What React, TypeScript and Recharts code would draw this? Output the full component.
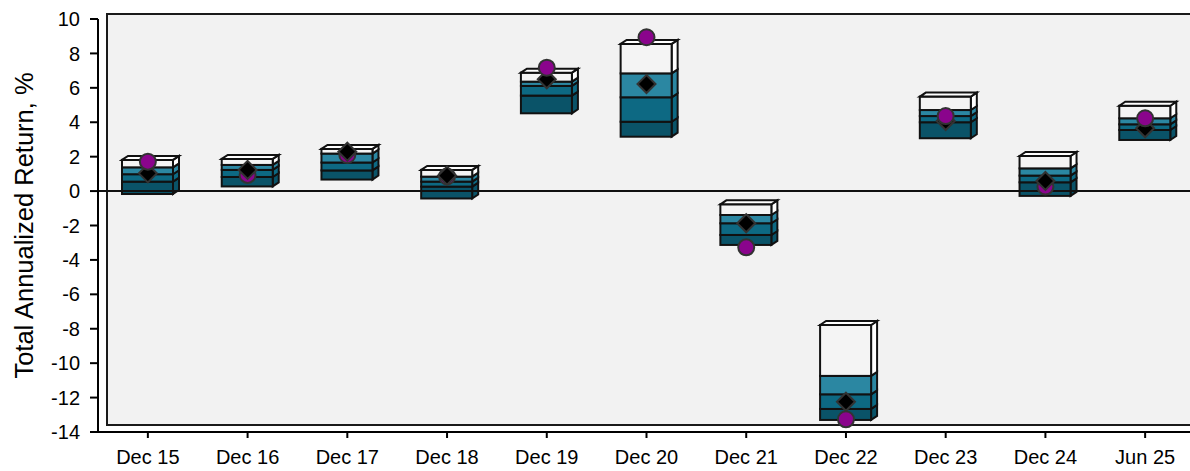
import React from 'react';
import { ComposedChart, Bar, Line, XAxis, YAxis, ReferenceLine } from 'recharts';

const FONT = '"Liberation Sans", Arial, Helvetica, sans-serif';

const categories = ['Dec 15', 'Dec 16', 'Dec 17', 'Dec 18', 'Dec 19', 'Dec 20', 'Dec 21', 'Dec 22', 'Dec 23', 'Dec 24', 'Jun 25'];
const p5 = [-0.17, 0.27, 0.67, -0.43, 4.52, 3.16, -3.13, -13.3, 3.07, -0.28, 2.97];
const p25 = [0.55, 0.82, 1.2, 0.26, 5.55, 4.03, -2.55, -12.66, 4.0, 0.51, 3.55];
const p50 = [0.98, 1.23, 1.66, 0.55, 6.11, 5.45, -1.87, -11.81, 4.36, 0.9, 3.88];
const p75 = [1.38, 1.52, 2.18, 0.84, 6.36, 6.84, -1.39, -10.74, 4.71, 1.32, 4.23];
const p95 = [1.81, 1.87, 2.45, 1.23, 6.88, 8.55, -0.77, -7.78, 5.49, 2.04, 4.96];
const medians = [1.03, 1.23, 2.29, 0.9, 6.5, 6.22, -1.87, -12.24, 4.07, 0.59, 3.65];
const portfolio = [1.71, 0.94, 2.1, 0.85, 7.17, 8.94, -3.27, -13.26, 4.36, 0.26, 4.23];
const yTicks = [-14, -12, -10, -8, -6, -4, -2, 0, 2, 4, 6, 8, 10];

const data = categories.map((name, i) => ({
  name,
  p5: p5[i],
  p25: p25[i],
  p50: p50[i],
  p75: p75[i],
  p95: p95[i],
  median: medians[i],
  portLow: portfolio[i] < medians[i] ? portfolio[i] : null,
  portHigh: portfolio[i] >= medians[i] ? portfolio[i] : null,
}));

const FRONT = ['#0a5368', '#0d6983', '#2b87a2', '#f4f4f4'];
const SIDE = ['#0a5368', '#0d6983', '#2b87a2', '#ffffff'];
const STROKE = '#111';

function Box3D(props: any) {
  const { x, y, width, height, payload } = props;
  if (x == null || y == null || !payload) return <g />;
  const top = Math.min(y, y + height);
  const h = Math.abs(height);
  const hi = payload.p95;
  const lo = payload.p5;
  const py = (v: number) => top + ((hi - v) / (hi - lo)) * h;
  const lv = [payload.p5, payload.p25, payload.p50, payload.p75, payload.p95];
  const dx = 6;
  const dy = 4;
  const sides: any[] = [];
  const fronts: any[] = [];
  for (let k = 0; k < 4; k++) {
    const yb = py(lv[k]);
    const yt = py(lv[k + 1]);
    sides.push(
      <polygon
        key={'s' + k}
        points={`${x + width},${yb} ${x + width + dx},${yb - dy} ${x + width + dx},${yt - dy} ${x + width},${yt}`}
        fill={SIDE[k]}
        stroke={STROKE}
        strokeWidth={2}
        strokeLinejoin="miter"
      />
    );
    fronts.push(
      <rect key={'f' + k} x={x} y={yt} width={width} height={yb - yt} fill={FRONT[k]} stroke={STROKE} strokeWidth={2} />
    );
  }
  const t = py(hi);
  return (
    <g>
      {sides}
      {fronts}
      <polygon
        points={`${x},${t} ${x + dx},${t - dy} ${x + width + dx},${t - dy} ${x + width},${t}`}
        fill="#ffffff"
        stroke={STROKE}
        strokeWidth={2}
        strokeLinejoin="miter"
      />
    </g>
  );
}

function Diamond(props: any) {
  const { cx, cy } = props;
  if (cx == null || cy == null || props.value == null) return <g />;
  const r = 9;
  return (
    <polygon
      points={`${cx},${cy - r} ${cx + r},${cy} ${cx},${cy + r} ${cx - r},${cy}`}
      fill="#000"
      stroke="#333"
      strokeWidth={2}
    />
  );
}

function Circle(props: any) {
  const { cx, cy } = props;
  if (cx == null || cy == null || props.value == null) return <g />;
  return <circle cx={cx} cy={cy} r={8} fill="#8a048c" stroke="#333" strokeWidth={2} />;
}

function YLabel(props: any) {
  const vb = props.viewBox || { x: 0, y: 19, width: 98, height: 413 };
  const cx = vb.x + 24;
  const cy = vb.y + vb.height / 2;
  return (
    <text
      x={cx}
      y={cy}
      transform={`rotate(-90, ${cx}, ${cy})`}
      textAnchor="middle"
      dominantBaseline="central"
      fontFamily={FONT}
      fontSize={25.5}
      fill="#000"
    >
      Total Annualized Return, %
    </text>
  );
}

export default function App() {
  return (
    <div style={{ position: 'fixed', left: 0, top: 0, width: 1190, height: 471, overflow: 'hidden', background: '#fff' }}>
      <div
        style={{
          position: 'absolute',
          left: 106,
          top: 13,
          width: 1200,
          height: 413,
          background: '#f2f2f2',
          border: '2px solid #1a1a1a',
          boxSizing: 'border-box',
        }}
      />
      <div style={{ position: 'absolute', left: 0, top: 0 }}>
        <ComposedChart width={1200} height={471} data={data} margin={{ top: 19, right: 5, bottom: 0, left: 0 }}>
          <XAxis
            dataKey="name"
            height={39}
            tickSize={6}
            tickMargin={12}
            axisLine={{ stroke: '#000', strokeWidth: 2 }}
            tickLine={{ stroke: '#000', strokeWidth: 2 }}
            tick={{ fontSize: 20, fill: '#000', fontFamily: FONT }}
            interval={0}
          />
          <YAxis
            type="number"
            domain={[-14, 10]}
            ticks={yTicks}
            interval={0}
            width={98}
            tickSize={8}
            tickMargin={10}
            axisLine={{ stroke: '#000', strokeWidth: 2 }}
            tickLine={{ stroke: '#000', strokeWidth: 2 }}
            tick={{ fontSize: 20, fill: '#000', fontFamily: FONT }}
            label={<YLabel />}
          />
          <Bar dataKey={(d: any) => [d.p5, d.p95]} barSize={51} shape={Box3D} isAnimationActive={false} />
          <ReferenceLine y={0} stroke="#111" strokeWidth={2} />
          <Line dataKey="portLow" stroke="none" dot={Circle} activeDot={false} isAnimationActive={false} legendType="none" />
          <Line dataKey="median" stroke="none" dot={Diamond} activeDot={false} isAnimationActive={false} legendType="none" />
          <Line dataKey="portHigh" stroke="none" dot={Circle} activeDot={false} isAnimationActive={false} legendType="none" />
        </ComposedChart>
      </div>
    </div>
  );
}
